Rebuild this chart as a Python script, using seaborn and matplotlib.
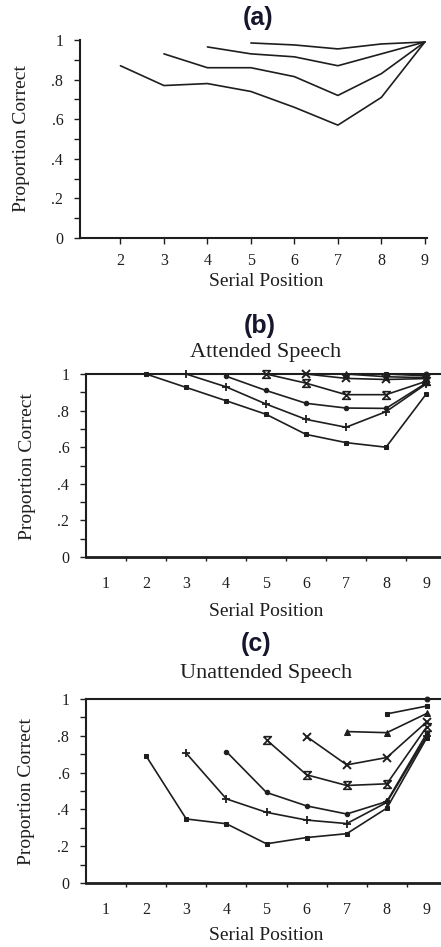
import matplotlib
matplotlib.use("Agg")
import matplotlib.pyplot as plt
from matplotlib.ticker import FixedLocator, FixedFormatter
import seaborn as sns
import pandas as pd

# ---------------- data ----------------
positions = [1, 2, 3, 4, 5, 6, 7, 8, 9]
y_tick_values = [0, 0.2, 0.4, 0.6, 0.8, 1.0]
y_tick_labels = ["0", ".2", ".4", ".6", ".8", "1"]

# (a) proportion correct by serial position, one curve per starting position
a_starts = [2, 3, 4, 5]
a_curve_2 = [0.87, 0.77, 0.78, 0.74, 0.66, 0.57, 0.71, 0.99]
a_curve_3 = [0.93, 0.86, 0.86, 0.815, 0.72, 0.83, 0.99]
a_curve_4 = [0.965, 0.93, 0.915, 0.87, 0.93, 0.99]
a_curve_5 = [0.985, 0.975, 0.955, 0.98, 0.99]

# (b) attended speech
b_starts = [2, 3, 4, 5, 6, 7, 8, 9]
b_curve_2 = [1.0, 0.927, 0.854, 0.78, 0.67, 0.625, 0.60, 0.889]
b_curve_3 = [1.0, 0.93, 0.836, 0.752, 0.709, 0.794, 0.945]
b_curve_4 = [0.988, 0.91, 0.84, 0.814, 0.812, 0.95]
b_curve_5 = [1.0, 0.95, 0.887, 0.887, 0.96]
b_curve_6 = [1.0, 0.976, 0.97, 0.975]
b_curve_7 = [1.0, 0.985, 0.98]
b_curve_8 = [1.0, 0.99]
b_curve_9 = [1.0]

# (c) unattended speech
c_starts = [2, 3, 4, 5, 6, 7, 8, 9]
c_curve_2 = [0.69, 0.348, 0.322, 0.213, 0.247, 0.268, 0.407, 0.79]
c_curve_3 = [0.705, 0.457, 0.384, 0.342, 0.323, 0.438, 0.80]
c_curve_4 = [0.714, 0.492, 0.419, 0.375, 0.443, 0.815]
c_curve_5 = [0.778, 0.588, 0.53, 0.539, 0.85]
c_curve_6 = [0.796, 0.642, 0.682, 0.877]
c_curve_7 = [0.823, 0.817, 0.922]
c_curve_8 = [0.919, 0.962]
c_curve_9 = [1.0]

a_curves = [a_curve_2, a_curve_3, a_curve_4, a_curve_5]
b_curves = [b_curve_2, b_curve_3, b_curve_4, b_curve_5, b_curve_6, b_curve_7, b_curve_8, b_curve_9]
c_curves = [c_curve_2, c_curve_3, c_curve_4, c_curve_5, c_curve_6, c_curve_7, c_curve_8, c_curve_9]


def long_form(starts, curves):
    rows = []
    for s, vals in zip(starts, curves):
        for k, v in enumerate(vals):
            rows.append({"start": s, "position": s + k, "correct": v})
    return pd.DataFrame(rows)


# ---------------- style ----------------
sns.set_theme(style="white")
plt.rcParams["font.family"] = ["Liberation Serif", "DejaVu Serif"]
INK = "#1e1e1e"
plt.rcParams["axes.edgecolor"] = INK
plt.rcParams["xtick.color"] = INK
plt.rcParams["ytick.color"] = INK
plt.rcParams["text.color"] = INK

W, H = 441, 947
fig = plt.figure(figsize=(W / 100, H / 100), dpi=100)
fig.patch.set_facecolor("white")

LABEL_SIZE = 14
TICK_SIZE = 11.5
TITLE_SIZE = 18
SUBTITLE_SIZE = 16
TITLE_FONT = ["Liberation Sans", "DejaVu Sans"]


def px_axes(left, top, right, bottom):
    return fig.add_axes([left / W, 1 - bottom / H, (right - left) / W, (bottom - top) / H])


def fig_text(x, y, s, **kw):
    fig.text(x / W, 1 - y / H, s, ha="center", va="center", **kw)


hourglass = [(-1, 1), (1, 1), (-1, -1), (1, -1), (-1, 1)]
marker_specs = [
    dict(marker="s", markersize=2.8),
    dict(marker="+", markersize=6, markeredgewidth=1.3),
    dict(marker="o", markersize=3.2),
    dict(marker=hourglass, markersize=5.5, markerfacecolor="none", markeredgewidth=1.2),
    dict(marker="x", markersize=5.5, markeredgewidth=1.4),
    dict(marker="^", markersize=5),
    dict(marker="s", markersize=3.5),
    dict(marker="o", markersize=3.5),
]


def style_y(ax):
    ax.set_ylim(0, 1)
    ax.yaxis.set_major_locator(FixedLocator(y_tick_values))
    ax.yaxis.set_major_formatter(FixedFormatter(y_tick_labels))
    ax.yaxis.set_minor_locator(FixedLocator([0.1, 0.3, 0.5, 0.7, 0.9]))
    ax.tick_params(axis="y", which="both", direction="out", left=True, length=4,
                   width=1.0, labelsize=TICK_SIZE, pad=8)
    ax.set_ylabel("")


# ---------------- panel (a) ----------------
ax_a = px_axes(80, 40, 427, 238)
df_a = long_form(a_starts, a_curves)
for s in a_starts:
    sub = df_a[df_a["start"] == s]
    sns.lineplot(data=sub, x="position", y="correct", ax=ax_a, color=INK,
                 linewidth=1.2, sort=False, estimator=None, clip_on=False)
ax_a.set_xlim(1.07, 9.05)
ax_a.set_xticks(positions[1:])
ax_a.set_xticklabels([str(p) for p in positions[1:]])
ax_a.tick_params(axis="x", direction="out", bottom=True, length=4, width=1.0,
                 labelsize=TICK_SIZE, pad=7)
style_y(ax_a)
ax_a.set_xlabel("")
for side in ("top", "right"):
    ax_a.spines[side].set_visible(False)
for side in ("left", "bottom"):
    ax_a.spines[side].set_linewidth(1.5)

fig_text(258, 18, "(a)", family=TITLE_FONT, fontweight="bold",
         fontsize=TITLE_SIZE, color="#16162c")
fig_text(266, 281, "Serial Position", fontsize=LABEL_SIZE)
fig.text(22 / W, 1 - 139 / H, "Proportion Correct", rotation=90, ha="center",
         va="center", fontsize=LABEL_SIZE)


# ---------------- panels (b) and (c) ----------------
def draw_speech_panel(box, starts, curves):
    ax = px_axes(*box)
    df = long_form(starts, curves)
    for s, spec in zip(starts, marker_specs):
        sub = df[df["start"] == s]
        sns.lineplot(data=sub, x="position", y="correct", ax=ax, color=INK,
                     markeredgecolor=INK, linewidth=1.2, sort=False, estimator=None,
                     clip_on=False, **spec)
    ax.set_xlim(0.5, 9.5)
    ax.set_xticks(positions)
    ax.set_xticklabels([str(p) for p in positions])
    ax.xaxis.set_minor_locator(FixedLocator([p + 0.5 for p in positions[:-1]]))
    ax.tick_params(axis="x", which="major", length=0, labelsize=TICK_SIZE, pad=14)
    ax.tick_params(axis="x", which="minor", direction="out", bottom=True, length=3, width=1.0)
    style_y(ax)
    ax.set_xlabel("")
    for side in ("left", "top", "right"):
        ax.spines[side].set_linewidth(1.5)
    ax.spines["bottom"].set_linewidth(2.0)
    return ax


ax_b = draw_speech_panel((86, 374, 446, 557), b_starts, b_curves)
fig_text(260, 326, "(b)", family=TITLE_FONT, fontweight="bold",
         fontsize=TITLE_SIZE, color="#16162c")
fig_text(266, 352, "Attended Speech", fontsize=SUBTITLE_SIZE)
fig_text(266, 612, "Serial Position", fontsize=LABEL_SIZE)
fig.text(28 / W, 1 - 466 / H, "Proportion Correct", rotation=90, ha="center",
         va="center", fontsize=LABEL_SIZE)

ax_c = draw_speech_panel((86, 699, 447, 883), c_starts, c_curves)
fig_text(256, 644, "(c)", family=TITLE_FONT, fontweight="bold",
         fontsize=TITLE_SIZE, color="#16162c")
fig_text(266, 673, "Unattended Speech", fontsize=SUBTITLE_SIZE)
fig_text(266, 935, "Serial Position", fontsize=LABEL_SIZE)
fig.text(27 / W, 1 - 791 / H, "Proportion Correct", rotation=90, ha="center",
         va="center", fontsize=LABEL_SIZE)

fig.savefig("out.png", dpi=100, facecolor="white")
